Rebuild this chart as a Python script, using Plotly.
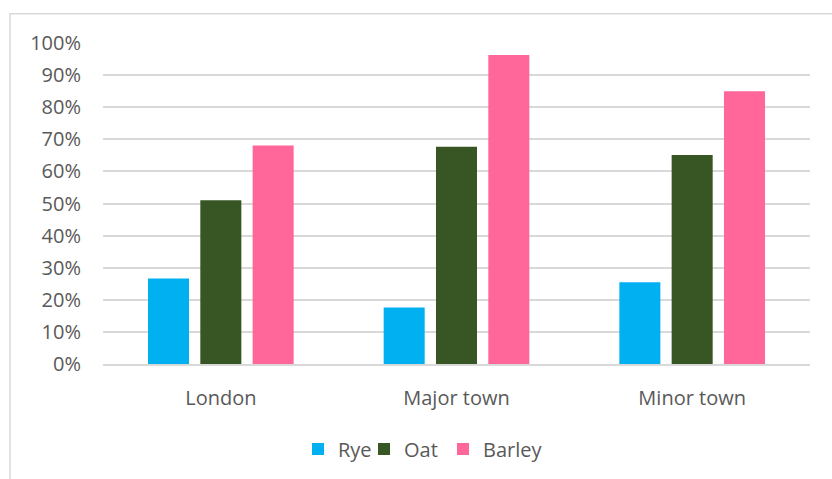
import plotly.graph_objects as go

# Share of households by settlement type and grain
categories = ["London", "Major town", "Minor town"]
rye = [0.266, 0.176, 0.255]
oat = [0.510, 0.677, 0.651]
barley = [0.681, 0.963, 0.850]

series_names = ["Rye", "Oat", "Barley"]
series_colors = ["#00B0F0", "#375623", "#FF6699"]
y_ticks = [i / 10 for i in range(11)]
y_tick_text = [f"{i * 10}%" for i in range(11)]

text_color = "#595959"
grid_color = "#D9D9D9"
font_family = "Open Sans"
font_size = 20

# one legend box per series so the entries sit close together
legend_ids = ["legend", "legend2", "legend3"]
legend_x = [0.2758, 0.3692, 0.4809]

fig = go.Figure()
for name, values, color, lid in zip(series_names, [rye, oat, barley], series_colors, legend_ids):
    fig.add_trace(go.Bar(
        x=categories,
        y=values,
        name=name,
        legend=lid,
        marker=dict(color=color, line=dict(width=0)),
    ))

legend_common = dict(
    orientation="h",
    xanchor="left",
    y=-0.2,
    yanchor="top",
    bgcolor="rgba(0,0,0,0)",
    font=dict(family=font_family, size=font_size, color=text_color),
    itemwidth=30,
)

fig.update_layout(
    width=832,
    height=479,
    margin=dict(l=103, r=22, t=43, b=114),
    paper_bgcolor="white",
    plot_bgcolor="white",
    barmode="group",
    bargap=0.334,
    bargroupgap=0.216,
    font=dict(family=font_family, size=font_size, color=text_color),
    showlegend=True,
    legend=dict(x=legend_x[0], **legend_common),
    legend2=dict(x=legend_x[1], **legend_common),
    legend3=dict(x=legend_x[2], **legend_common),
    xaxis=dict(
        showgrid=False,
        showline=True,
        linecolor=grid_color,
        linewidth=1.5,
        ticks="",
        ticklabelstandoff=15,
        tickfont=dict(family=font_family, size=font_size, color=text_color),
    ),
    yaxis=dict(
        range=[0, 1.0],
        tickvals=y_ticks,
        ticktext=y_tick_text,
        showgrid=True,
        gridcolor=grid_color,
        gridwidth=1.5,
        zeroline=False,
        showline=False,
        ticks="",
        ticklabelstandoff=21,
        tickfont=dict(family=font_family, size=font_size, color=text_color),
    ),
    shapes=[
        dict(
            type="rect",
            xref="paper", yref="paper",
            x0=(10 - 103) / 707, x1=1 + 30 / 707,
            y0=-120 / 321.7, y1=1 + 29.3 / 321.7,
            line=dict(color=grid_color, width=1.5),
            fillcolor="rgba(0,0,0,0)",
            layer="below",
        )
    ],
)

fig.write_html("out.html")
